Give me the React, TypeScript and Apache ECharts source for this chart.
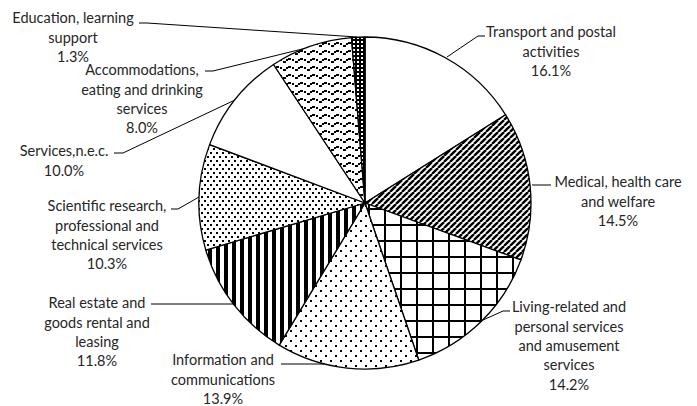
import React, { useEffect, useRef } from 'react';
import * as echarts from 'echarts';

// ---- data ----
const categories = [
  'Transport and postal activities',
  'Medical, health care and welfare',
  'Living-related and personal services and amusement services',
  'Information and communications',
  'Real estate and goods rental and leasing',
  'Scientific research, professional and technical services',
  'Services,n.e.c.',
  'Accommodations, eating and drinking services',
  'Education, learning support',
];
const shares = [16.1, 14.5, 14.2, 13.9, 11.8, 10.3, 10.0, 8.0, 1.3];
const labelNames = [
  'Transport and postal\nactivities',
  'Medical, health care\nand welfare',
  'Living-related and\npersonal services\nand amusement\nservices',
  'Information and\ncommunications',
  'Real estate and\ngoods rental and\nleasing',
  'Scientific research,\nprofessional and\ntechnical services',
  'Services,n.e.c.',
  'Accommodations,\neating and drinking\nservices',
  'Education, learning\nsupport',
];

// ---- layout (annotation placement) ----
const LINE_H = 19.3;
const labelSpots: number[][] = [
  [551, 32], [618, 182], [569, 307], [223, 360], [97, 303],
  [107, 206], [64, 151], [142, 70], [73, 18],
];
const leaderPaths: number[][][] = [
  [[447, 57], [478, 36], [485, 36]],
  [[532, 185], [551, 185]],
  [[483, 320], [503, 311], [510, 311]],
  [[324, 364], [281, 364]],
  [[233, 304], [151, 304]],
  [[199, 197], [178, 209], [171, 209]],
  [[237, 99], [123, 153], [114, 153]],
  [[343, 39], [213, 71], [205, 71]],
  [[357, 37], [147, 23], [139, 23]],
];
const patternKinds = ['none', 'diag', 'grid', 'sparse', 'vstripe', 'dense', 'none', 'wave', 'dark'];

function tile(w: number, h: number, draw: (c: CanvasRenderingContext2D) => void) {
  const cv = document.createElement('canvas');
  cv.width = w;
  cv.height = h;
  const ctx = cv.getContext('2d')!;
  ctx.fillStyle = '#ffffff';
  ctx.fillRect(0, 0, w, h);
  ctx.fillStyle = '#000000';
  ctx.strokeStyle = '#000000';
  draw(ctx);
  return cv;
}

function makePattern(kind: string): any {
  let cv: HTMLCanvasElement | null = null;
  if (kind === 'diag') {
    cv = tile(6, 6, (c) => {
      c.lineWidth = 2.4;
      for (const x0 of [-6, 0, 6]) {
        c.beginPath();
        c.moveTo(x0, 6);
        c.lineTo(x0 + 6, 0);
        c.stroke();
      }
    });
  } else if (kind === 'grid') {
    cv = tile(16, 16, (c) => {
      c.fillRect(0, 0, 16, 2);
      c.fillRect(0, 0, 2, 16);
    });
  } else if (kind === 'sparse') {
    cv = tile(10, 10, (c) => {
      c.fillRect(0, 0, 2, 2);
      c.fillRect(5, 5, 2, 2);
    });
  } else if (kind === 'vstripe') {
    cv = tile(8, 2, (c) => {
      c.fillRect(0, 0, 4, 2);
    });
  } else if (kind === 'dense') {
    cv = tile(6, 8, (c) => {
      c.fillRect(0, 0, 2, 2);
      c.fillRect(3, 4, 2, 2);
    });
  } else if (kind === 'wave') {
    cv = tile(12, 8, (c) => {
      c.fillRect(0, 2, 3, 2);
      c.fillRect(4, 3, 2, 2);
      c.fillRect(7, 5, 3, 2);
      c.fillRect(10, 3, 2, 2);
    });
  } else if (kind === 'dark') {
    cv = tile(4, 4, (c) => {
      c.fillRect(0, 0, 4, 4);
      c.fillStyle = '#ffffff';
      c.fillRect(1, 1, 2, 2);
    });
  }
  if (!cv) return '#ffffff';
  return { image: cv, repeat: 'repeat', imageWidth: cv.width, imageHeight: cv.height };
}

export default function App() {
  const ref = useRef<HTMLDivElement>(null);
  useEffect(() => {
    if (!ref.current) return;
    const chart = echarts.init(ref.current, undefined, { renderer: 'svg' });
    const data = categories.map((name, i) => ({
      name,
      value: shares[i],
      itemStyle: { color: makePattern(patternKinds[i]) },
    }));
    chart.setOption({
      animation: false,
      backgroundColor: '#ffffff',
      series: [
        {
          type: 'pie',
          center: [365, 203],
          radius: [0, 166],
          startAngle: 90,
          clockwise: true,
          avoidLabelOverlap: false,
          data,
          itemStyle: { borderColor: '#000000', borderWidth: 1.3 },
          emphasis: { disabled: true },
          label: {
            show: true,
            position: 'outside',
            fontFamily: 'Lato',
            fontSize: 14.5,
            lineHeight: LINE_H,
            color: '#262626',
            align: 'center',
            formatter: (p: any) => `${labelNames[p.dataIndex]}\n${p.value.toFixed(1)}%`,
          },
          labelLine: {
            show: true,
            lineStyle: { color: '#000000', width: 1 },
          },
          labelLayout: (p: any) => {
            const i = p.dataIndex;
            return {
              x: labelSpots[i][0],
              y: labelSpots[i][1] - LINE_H / 2,
              align: 'center',
              verticalAlign: 'top',
              labelLinePoints: leaderPaths[i].map((pt) => [pt[0], pt[1]]),
            };
          },
        },
      ],
    });
    return () => chart.dispose();
  }, []);
  return (
    <div
      ref={ref}
      style={{ position: 'absolute', left: 0, top: 0, width: 697, height: 406 }}
    />
  );
}
